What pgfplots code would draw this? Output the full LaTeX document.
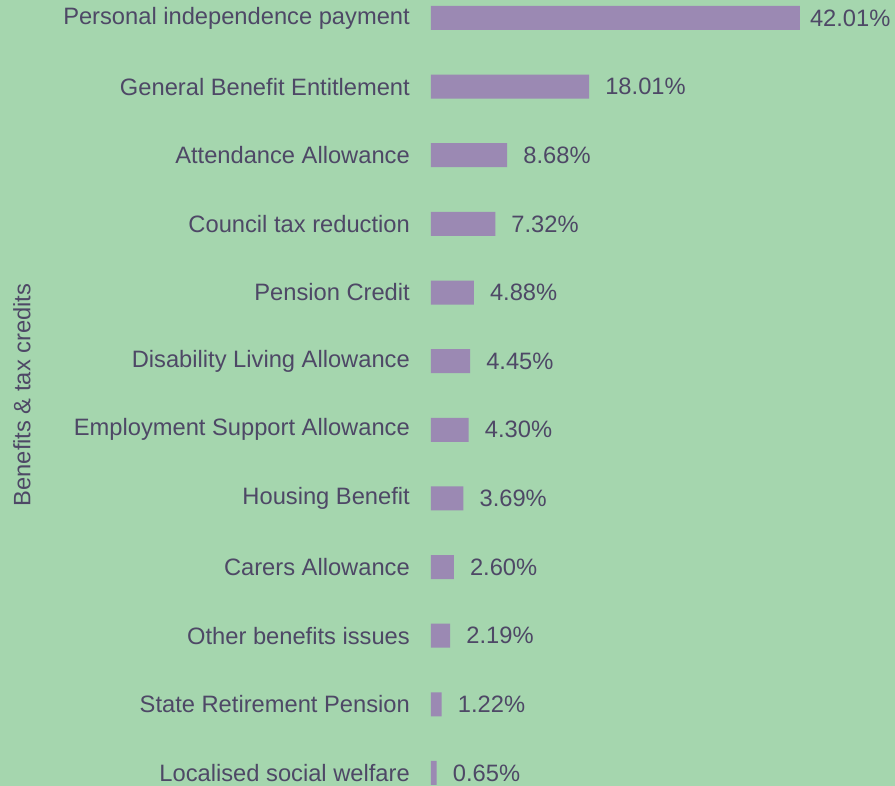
\documentclass[border=0pt]{standalone}
\usepackage{pgfplots}
\pgfplotsset{compat=1.18}
\usepackage{pgfplotstable}
\usepackage{fontspec}
\setmainfont{Liberation Sans}
\definecolor{BgGreen}{HTML}{A5D6AE}
\definecolor{BarPurple}{HTML}{9B89B3}
\definecolor{TextInk}{HTML}{4E4866}

% value, gap to label (px)
\pgfplotstableread{
idx value gap
0 42.01 10
1 18.01 16
2 8.68 16
3 7.32 16
4 4.88 16
5 4.45 16
6 4.30 16
7 3.69 16
8 2.60 16
9 2.19 16
10 1.22 16
11 0.65 16
}\benefits

\begin{document}
\begin{tikzpicture}
  \fill[BgGreen] (-431pt,0pt) rectangle (464pt,786pt);
  \begin{axis}[
      at={(0pt,0pt)}, anchor=south west,
      scale only axis,
      width=464pt, height=786pt,
      xbar, bar width=24pt,
      xmin=0, xmax=52.85,
      ymin=-0.262, ymax=11.19,
      y dir=reverse,
      clip=false,
      ytick={0,...,11},
      yticklabels={Personal independence payment, General Benefit Entitlement, Attendance Allowance, Council tax reduction, Pension Credit, Disability Living Allowance, Employment Support Allowance, Housing Benefit, Carers Allowance, Other benefits issues, State Retirement Pension, Localised social welfare},
      hide x axis,
      axis line style={draw=none},
      major tick length=0pt,
      yticklabel style={font=\fontsize{23.7}{28}\selectfont, text=TextInk, anchor=east, inner sep=0pt, xshift=-21pt},
      /pgf/number format/assume math mode=true,
      nodes near coords={\pgfmathprintnumber[fixed,fixed zerofill,precision=2]{\pgfplotspointmeta}\%},
      visualization depends on={\thisrow{gap} \as \gap},
      every node near coord/.append style={font=\fontsize{23.7}{28}\selectfont, text=TextInk, anchor=west, inner sep=0pt, xshift=\gap pt},
  ]
    \addplot[draw=none, fill=BarPurple] table[x=value, y=idx] {\benefits};
  \end{axis}
  \node[rotate=90, text=TextInk, font=\fontsize{23.7}{28}\selectfont, inner sep=0pt] at (-409pt,391pt) {Benefits \& tax credits};
  \pgfresetboundingbox
  \path[use as bounding box] (-431pt,0pt) rectangle (464pt,786pt);
\end{tikzpicture}
\end{document}
